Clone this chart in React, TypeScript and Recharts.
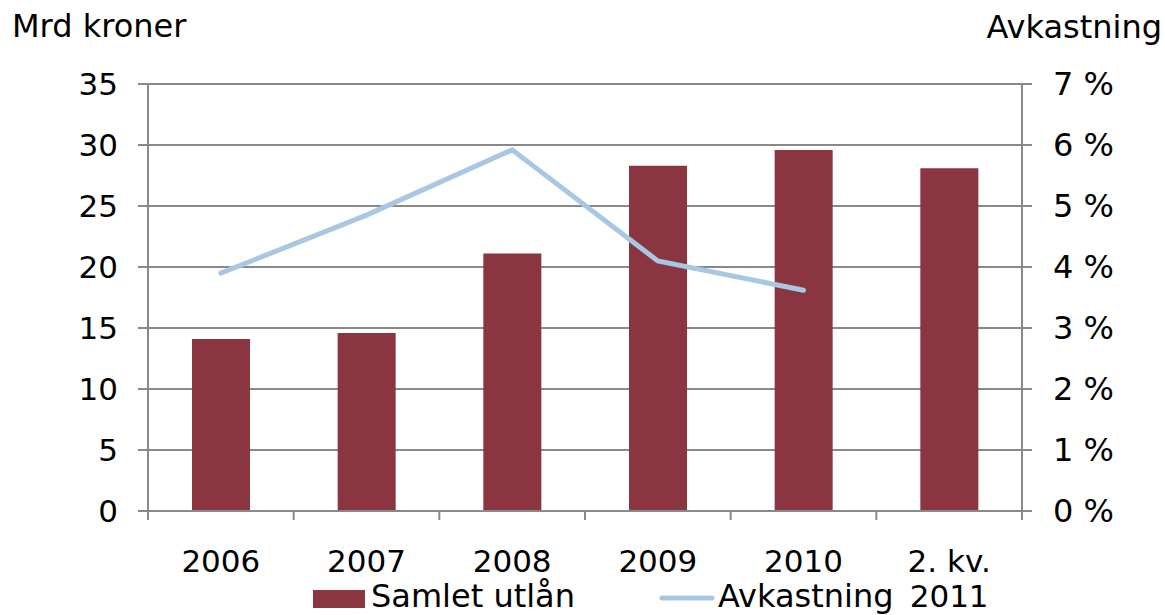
import React from "react"
import { ComposedChart, Bar, Line, XAxis, YAxis, CartesianGrid } from "recharts"

const categories = ["2006", "2007", "2008", "2009", "2010", "2. kv. 2011"]
const samletUtlan = [14.1, 14.6, 21.1, 28.3, 29.6, 28.1]
const avkastning: (number | null)[] = [3.9, 4.85, 5.92, 4.1, 3.62, null]
const leftTicks = [0, 5, 10, 15, 20, 25, 30, 35]
const rightTicks = [0, 1, 2, 3, 4, 5, 6, 7]

const data = categories.map((label, i) => ({
  label,
  utlan: samletUtlan[i],
  avk: avkastning[i],
}))

const W = 1165
const H = 615
const PLOT_LEFT = 148
const PLOT_RIGHT = 1022
const BAND = (PLOT_RIGHT - PLOT_LEFT) / categories.length

const BAR = "#8b3540"
const LINE = "#a7c7e3"
const GREY = "#898989"
const FONT = "'DejaVu Sans', Verdana, sans-serif"

function CategoryTick(props: any) {
  const { x, y, payload, index } = props
  const text: string = payload.value
  const split = text.lastIndexOf(" ")
  const lines = text.length > 4 ? [text.slice(0, split), text.slice(split + 1)] : [text]
  const left = x - BAND / 2
  return (
    <g>
      <line x1={left} y1={y} x2={left} y2={y + 9} stroke={GREY} strokeWidth={2} />
      {index === categories.length - 1 && (
        <line x1={x + BAND / 2} y1={y} x2={x + BAND / 2} y2={y + 9} stroke={GREY} strokeWidth={2} />
      )}
      {lines.map((l, i) => (
        <text key={i} x={x} y={y + 61 + i * 35} textAnchor="middle" fill="#000" fontSize={31} fontFamily={FONT}>
          {l}
        </text>
      ))}
    </g>
  )
}

export default function App() {
  return (
    <div style={{ position: "absolute", left: 0, top: 0, width: W, height: H, background: "#fff" }}>
      <ComposedChart width={W} height={H} data={data} margin={{ top: 84, right: 0, left: 0, bottom: 0 }} barSize={58}>
        <CartesianGrid yAxisId="left" vertical={false} stroke={GREY} strokeWidth={2} />
        <XAxis
          dataKey="label"
          height={104}
          axisLine={{ stroke: GREY, strokeWidth: 2 }}
          tickLine={false}
          tickSize={0}
          tickMargin={0}
          interval={0}
          tick={<CategoryTick />}
        />
        <YAxis
          yAxisId="left"
          width={148}
          domain={[0, 35]}
          ticks={leftTicks}
          interval={0}
          tickSize={10}
          tickMargin={20}
          axisLine={{ stroke: GREY, strokeWidth: 2 }}
          tickLine={{ stroke: GREY, strokeWidth: 2 }}
          tick={{ fill: "#000", fontSize: 31, fontFamily: FONT }}
        />
        <YAxis
          yAxisId="right"
          orientation="right"
          width={143}
          domain={[0, 7]}
          ticks={rightTicks}
          interval={0}
          tickSize={10}
          tickMargin={21}
          tickFormatter={(v) => `${v}\u00a0%`}
          axisLine={{ stroke: GREY, strokeWidth: 2 }}
          tickLine={{ stroke: GREY, strokeWidth: 2 }}
          tick={{ fill: "#000", fontSize: 32, fontFamily: FONT }}
        />
        <Bar yAxisId="left" dataKey="utlan" fill={BAR} isAnimationActive={false} />
        <Line
          yAxisId="right"
          type="linear"
          dataKey="avk"
          stroke={LINE}
          strokeWidth={5}
          strokeLinecap="round"
          dot={false}
          activeDot={false}
          isAnimationActive={false}
        />
      </ComposedChart>
      <svg width={W} height={H} style={{ position: "absolute", left: 0, top: 0, pointerEvents: "none" }}>
        <text x={12} y={37} fontSize={32} fontFamily={FONT} fill="#000">
          Mrd kroner
        </text>
        <text x={1162} y={38} fontSize={32} fontFamily={FONT} fill="#000" textAnchor="end">
          Avkastning
        </text>
        <rect x={313} y={590} width={52} height={18} fill={BAR} />
        <text x={371} y={607} fontSize={32} fontFamily={FONT} fill="#000">
          Samlet utlån
        </text>
        <line x1={662} y1={598} x2={712} y2={598} stroke={LINE} strokeWidth={5} strokeLinecap="round" />
        <text x={718} y={607} fontSize={32} fontFamily={FONT} fill="#000">
          Avkastning
        </text>
      </svg>
    </div>
  )
}
